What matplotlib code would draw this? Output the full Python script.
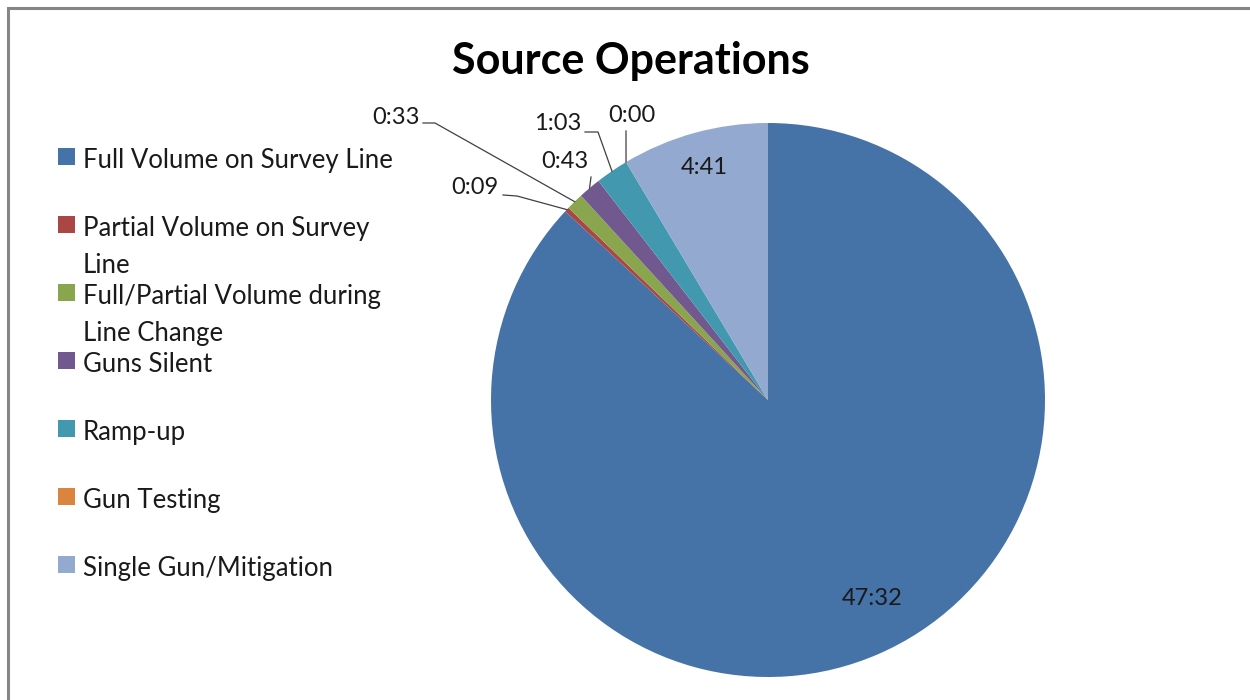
import numpy as np
import matplotlib.pyplot as plt
from matplotlib.patches import Rectangle

# data (hours:minutes, stored as minutes)
categories = ['Full Volume on Survey Line', 'Partial Volume on Survey Line',
              'Full/Partial Volume during Line Change', 'Guns Silent',
              'Ramp-up', 'Gun Testing', 'Single Gun/Mitigation']
legend_labels = ['Full Volume on Survey Line', 'Partial Volume on Survey\nLine',
                 'Full/Partial Volume during\nLine Change', 'Guns Silent',
                 'Ramp-up', 'Gun Testing', 'Single Gun/Mitigation']
minutes = [2852, 9, 33, 43, 63, 0, 281]
colors = ['#4572A7', '#AA4643', '#89A54E', '#71588F', '#4198AF', '#DB843D', '#93A9CF']

FONT = ['Lato', 'DejaVu Sans']
plt.rcParams['font.family'] = FONT

W, H = 1250, 700
fig = plt.figure(figsize=(W / 100, H / 100), dpi=100)

# chart border (only top and left visible)
fig.add_artist(Rectangle((8 / W, -0.1), 1.2, (H - 8) / H + 0.1, transform=fig.transFigure,
                         fill=False, edgecolor='#868686', linewidth=2.2))

fig.text(631 / W, 1 - 61 / H, 'Source Operations', ha='center', va='center',
         fontsize=31, fontweight='bold')

# pie: centre (768, 400) px, radius 277 px
cx, cy, R = 768, 400, 277
ax = fig.add_axes([(cx - R) / W, (H - cy - R) / H, 2 * R / W, 2 * R / H])
wedges, _ = ax.pie(minutes, colors=colors, startangle=90, counterclock=False,
                   wedgeprops=dict(linewidth=0))
ax.set_xlim(-1, 1)
ax.set_ylim(-1, 1)
ax.set_aspect('equal')
ax.axis('off')


def fmt(m):
    return '%d:%02d' % (m // 60, m % 60)


def px(x, y):
    # pixel -> data coords of pie axes
    return (x - cx) / R, (cy - y) / R


LBL = 17

# inside labels (index, radius, angle shift in degrees)
for i, r, dth in [(0, 0.81, 4.0), (6, 0.87, 0.0)]:
    w = wedges[i]
    a = np.deg2rad((w.theta1 + w.theta2) / 2 + dth)
    ax.text(r * np.cos(a), r * np.sin(a), fmt(minutes[i]), ha='center', va='center',
            fontsize=LBL, color='#1a1a1a')

# outside labels with leader lines: (index, text pos px, ha, line start px, elbow px or None)
outside = [
    (1, (499, 187), 'right', (503, 195), (517, 196)),
    (2, (420, 117), 'right', (423, 123), (435, 123)),
    (3, (565, 162), 'center', (591, 177), None),
    (4, (581, 124), 'right', (585, 132), (598, 132)),
    (5, (632, 115), 'center', (626, 131), None),
]
for i, tpos, ha, start, elbow in outside:
    w = wedges[i]
    a = np.deg2rad((w.theta1 + w.theta2) / 2)
    tx, ty = px(*tpos)
    ax.text(tx, ty, fmt(minutes[i]), ha=ha, va='center', fontsize=LBL,
            color='#1a1a1a', clip_on=False)
    pts = [px(*start)]
    if elbow is not None:
        pts.append(px(*elbow))
    pts.append((np.cos(a), np.sin(a)))
    xs, ys = zip(*pts)
    ax.plot(xs, ys, color='#404040', linewidth=0.9, clip_on=False)

# legend
for k, (lab, c) in enumerate(zip(legend_labels, colors)):
    y = 157 + 68 * k
    fig.add_artist(Rectangle((58 / W, 1 - (y + 8) / H), 17 / W, 17 / H,
                             transform=fig.transFigure, facecolor=c, edgecolor='none'))
    fig.text(83 / W, 1 - (y - 9) / H, lab, ha='left', va='top', fontsize=18.5,
             color='#1a1a1a', linespacing=1.58)

fig.savefig('out.png', dpi=100)
